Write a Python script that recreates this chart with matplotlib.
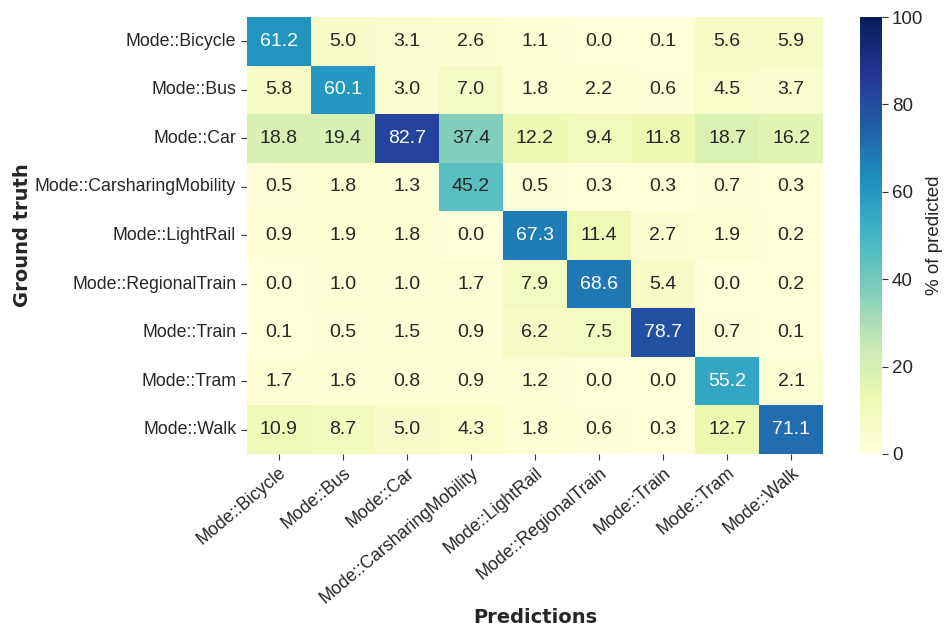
import matplotlib
matplotlib.use("Agg")
import matplotlib.pyplot as plt
import numpy as np
import seaborn as sns

modes = ["Mode::Bicycle", "Mode::Bus", "Mode::Car", "Mode::CarsharingMobility",
         "Mode::LightRail", "Mode::RegionalTrain", "Mode::Train", "Mode::Tram",
         "Mode::Walk"]

# rows = ground truth, columns = predictions (% of predicted)
row_bicycle = [61.2, 5.0, 3.1, 2.6, 1.1, 0.0, 0.1, 5.6, 5.9]
row_bus = [5.8, 60.1, 3.0, 7.0, 1.8, 2.2, 0.6, 4.5, 3.7]
row_car = [18.8, 19.4, 82.7, 37.4, 12.2, 9.4, 11.8, 18.7, 16.2]
row_carsharing = [0.5, 1.8, 1.3, 45.2, 0.5, 0.3, 0.3, 0.7, 0.3]
row_lightrail = [0.9, 1.9, 1.8, 0.0, 67.3, 11.4, 2.7, 1.9, 0.2]
row_regional = [0.0, 1.0, 1.0, 1.7, 7.9, 68.6, 5.4, 0.0, 0.2]
row_train = [0.1, 0.5, 1.5, 0.9, 6.2, 7.5, 78.7, 0.7, 0.1]
row_tram = [1.7, 1.6, 0.8, 0.9, 1.2, 0.0, 0.0, 55.2, 2.1]
row_walk = [10.9, 8.7, 5.0, 4.3, 1.8, 0.6, 0.3, 12.7, 71.1]

cm = np.array([row_bicycle, row_bus, row_car, row_carsharing, row_lightrail,
               row_regional, row_train, row_tram, row_walk])

sns.set_style("ticks")
plt.rcParams['font.family'] = ['Liberation Sans', 'DejaVu Sans']

fig = plt.figure(figsize=(9.45, 6.33), dpi=100)
ax = fig.add_axes([0.261, 0.283, 0.610, 0.690])
cax = fig.add_axes([0.910, 0.283, 0.023, 0.690])

sns.heatmap(cm, ax=ax, cbar_ax=cax, cmap="YlGnBu", vmin=0, vmax=100,
            annot=True, fmt=".1f", annot_kws={"size": 14},
            xticklabels=modes, yticklabels=modes,
            cbar_kws={"label": "% of predicted"})

ax.tick_params(labelsize=12.8, color="#333333", length=4)
plt.setp(ax.get_xticklabels(), rotation=40, ha="right", rotation_mode="anchor")
plt.setp(ax.get_yticklabels(), rotation=0)
ax.set_xlabel("Predictions", family="DejaVu Sans", fontweight="bold", fontsize=14, labelpad=1)
ax.set_ylabel("Ground truth", family="DejaVu Sans", fontweight="bold", fontsize=14, labelpad=2)

cax.tick_params(labelsize=13.5, color="#333333", length=4)
cax.set_ylabel("% of predicted", fontsize=13.5, labelpad=2)
cb = ax.collections[0].colorbar
cb.outline.set_visible(False)

fig.savefig("out.png", dpi=100)
